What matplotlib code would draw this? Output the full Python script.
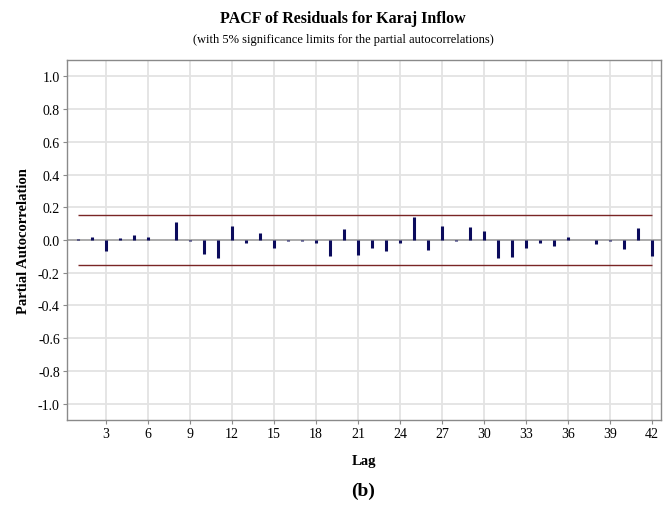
import matplotlib

matplotlib.use("Agg")
import matplotlib.pyplot as plt  # noqa: E402
import numpy as np  # noqa: E402

plt.rcParams["font.family"] = ["Liberation Serif", "DejaVu Serif"]

# partial autocorrelations of the model residuals, lags 1..42
lags = np.arange(1, 43)
pacf_values = [
    0.005, 0.020, -0.067, 0.010, 0.030, 0.017, 0.002, 0.110, -0.006, -0.088,
    -0.112, 0.084, -0.020, 0.041, -0.049, -0.004, -0.008, -0.018, -0.100, 0.065,
    -0.090, -0.050, -0.070, -0.016, 0.141, -0.063, 0.086, -0.004, 0.078, 0.055,
    -0.109, -0.102, -0.047, -0.021, -0.034, 0.021, -0.003, -0.026, -0.005, -0.056,
    0.075, -0.099,
]
sig_limit = 0.155
x_ticks = np.arange(3, 43, 3)
y_ticks = np.round(np.arange(-1.0, 1.01, 0.2), 1)

fig = plt.figure(figsize=(6.69, 5.10), dpi=100)
ax = fig.add_axes([0.0997, 0.1745, 0.8883, 0.7059])

ax.set_xlim(0.2, 42.65)
ax.set_ylim(-1.1, 1.1)
ax.set_xticks(x_ticks)
ax.set_yticks(y_ticks)
ax.set_yticklabels([f"{v + 0.0:.1f}" if abs(v) > 1e-9 else "0.0" for v in y_ticks])
ax.grid(True, color="#e3e3e3", linewidth=1.3)
ax.set_axisbelow(True)

ax.axhline(0, color="#a8a8a8", linewidth=1.3, zorder=2)
ax.hlines([sig_limit, -sig_limit], lags[0], lags[-1], colors="#7a2525", linewidth=1.0, zorder=3)
ax.vlines(lags, 0, pacf_values, colors="#0b0b5c", linewidth=2.2, capstyle="butt", zorder=4)

for spine in ax.spines.values():
    spine.set_color("#8a8a8a")
    spine.set_linewidth(1.0)
ax.tick_params(axis="both", direction="out", length=3, width=0.8, color="#8a8a8a",
               labelsize=10, pad=2)

ax.set_ylabel("Partial Autocorrelation", fontsize=10.5, weight="bold", labelpad=6)
ax.set_xlabel("Lag", fontsize=10.5, weight="bold", labelpad=10)

fig.text(0.513, 0.963, "PACF of Residuals for Karaj Inflow", ha="center", va="center",
         fontsize=11.5, weight="bold")
fig.text(0.513, 0.921, "(with 5% significance limits for the partial autocorrelations)",
         ha="center", va="center", fontsize=9)
fig.text(0.542, 0.037, "(b)", ha="center", va="center", fontsize=14, weight="bold")

fig.savefig("out.png", dpi=100)
plt.close(fig)
